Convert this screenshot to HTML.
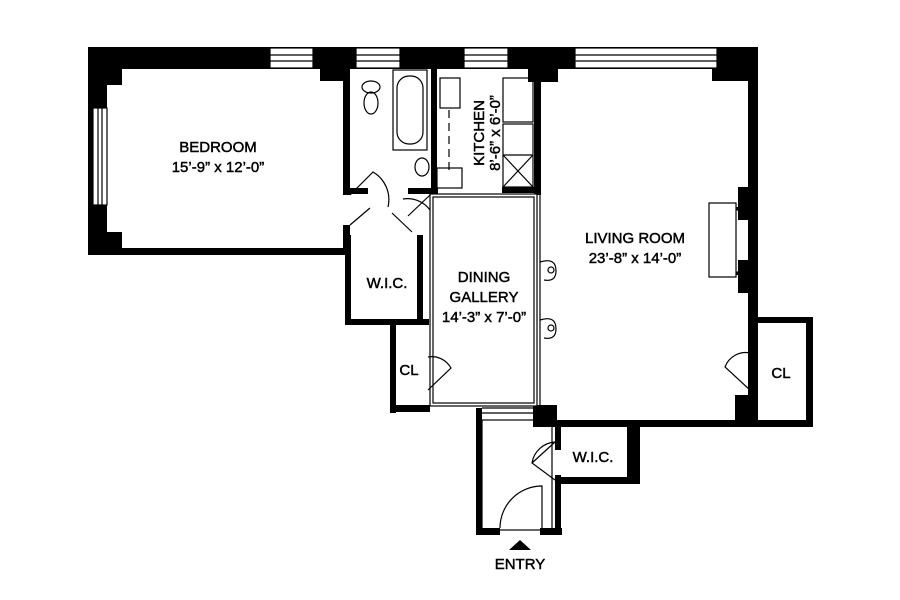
<!DOCTYPE html>
<html><head><style>
html,body{margin:0;padding:0;background:#fff;}
svg{display:block;}
text{font-family:"Liberation Sans",Arial,sans-serif;fill:#000;stroke:#000;stroke-width:0.45;}
</style></head><body>
<svg width="900" height="600" viewBox="0 0 900 600" xmlns="http://www.w3.org/2000/svg">
<rect width="900" height="600" fill="#fff"/>
<g fill="#000">
<rect x="88" y="47" width="670" height="22"/>
<rect x="88" y="47" width="34" height="38"/>
<rect x="320" y="47" width="30" height="34"/>
<rect x="88" y="232" width="34" height="23"/>
<rect x="88" y="47" width="19" height="208"/>
<rect x="88" y="248" width="262" height="7"/>
<rect x="343" y="65" width="7" height="130"/>
<rect x="343" y="225" width="7" height="30"/>
<rect x="431" y="65" width="6" height="130"/>
<rect x="350" y="188" width="18" height="6"/>
<rect x="408" y="188" width="30" height="6"/>
<rect x="534" y="65" width="7" height="130"/>
<rect x="528" y="47" width="30" height="35"/>
<rect x="502" y="187" width="36" height="6"/>
<rect x="712" y="47" width="46" height="34"/>
<rect x="748" y="47" width="10" height="375"/>
<rect x="735" y="395" width="22" height="30"/>
<rect x="535" y="420" width="278" height="7"/>
<rect x="533" y="405" width="24" height="22"/>
<rect x="750" y="317" width="63" height="6"/>
<rect x="806" y="317" width="7" height="110"/>
<rect x="345" y="235" width="6" height="90"/>
<rect x="345" y="319" width="84" height="6"/>
<rect x="417" y="235" width="6" height="90"/>
<rect x="390" y="319" width="6" height="94"/>
<rect x="390" y="405" width="40" height="7"/>
<rect x="476" y="408" width="6" height="127"/>
<rect x="476" y="528" width="24" height="7"/>
<rect x="540" y="528" width="22" height="7"/>
<rect x="555" y="420" width="6" height="30"/>
<rect x="555" y="475" width="6" height="60"/>
<rect x="555" y="477" width="85" height="7"/>
<rect x="627" y="420" width="13" height="64"/>
<rect x="738" y="187" width="11" height="33"/>
<rect x="738" y="260" width="11" height="33"/>
<polygon points="728,207 738,207 738,212 749,220 749,215"/>
<polygon points="728,275 738,275 738,270 749,262 749,267"/>
<polygon points="509,550 531,550 520,540"/>
</g>
<g fill="none" stroke="#000" stroke-width="1.2">
<rect x="270" y="48" width="43" height="20" fill="#fff"/>
<line x1="270" y1="55" x2="313" y2="55"/><line x1="270" y1="61" x2="313" y2="61"/>
<rect x="356" y="48" width="44" height="20" fill="#fff"/>
<line x1="356" y1="55" x2="400" y2="55"/><line x1="356" y1="61" x2="400" y2="61"/>
<rect x="464" y="48" width="44" height="20" fill="#fff"/>
<line x1="464" y1="55" x2="508" y2="55"/><line x1="464" y1="61" x2="508" y2="61"/>
<rect x="575" y="48" width="142" height="20" fill="#fff"/>
<line x1="575" y1="55" x2="717" y2="55"/><line x1="575" y1="61" x2="717" y2="61"/>
<rect x="93" y="108" width="14" height="97" fill="#fff"/>
<line x1="98" y1="108" x2="98" y2="205"/><line x1="102" y1="108" x2="102" y2="205"/>
<rect x="430" y="194" width="107" height="212" fill="#fff"/>
<rect x="433" y="197" width="101" height="206"/>
<line x1="540" y1="194" x2="540" y2="406"/>
<path d="M540 262 q16 -5 16 9 q0 11 -12 9 M540 320 q16 -5 16 9 q0 11 -12 9"/>
<circle cx="551" cy="270" r="3"/><circle cx="551" cy="328" r="3"/>
<rect x="482" y="420" width="70" height="110"/>
<line x1="482" y1="408" x2="534" y2="408"/>
<line x1="482" y1="413" x2="534" y2="413"/>
<rect x="709" y="203" width="27" height="74" fill="#fff"/>
<path d="M350 195 L373 172 A32 32 0 0 1 388 207"/>
<path d="M430 195 L408 216 M403 199 A28 28 0 0 1 430 210"/>
<path d="M350 225 L370 208 M392 213 L412 232"/>
<path d="M428 357 A22 22 0 0 1 451 368 L428 390"/>
<path d="M750 353 A22 22 0 0 0 725 367 L750 390"/>
<path d="M555 442 L532 463 L555 480 M532 463 A25 25 0 0 1 555 442"/>
<path d="M542 528 L542 486 A42 42 0 0 0 500 528"/>
<ellipse cx="371" cy="87" rx="9" ry="6"/>
<ellipse cx="371" cy="103" rx="7" ry="11"/>
<rect x="393" y="70" width="34" height="80"/>
<rect x="397" y="76" width="26" height="68" rx="12"/>
<ellipse cx="422" cy="167" rx="7" ry="9"/>
<rect x="440" y="78" width="20" height="30"/>
<line x1="449" y1="110" x2="449" y2="175" stroke-dasharray="8,5"/>
<rect x="437" y="168" width="25" height="20"/>
<rect x="503" y="78" width="30" height="44"/>
<rect x="503" y="124" width="30" height="63"/>
<line x1="503" y1="155" x2="533" y2="155"/>
<line x1="503" y1="155" x2="533" y2="187"/><line x1="533" y1="155" x2="503" y2="187"/>
</g>
<g font-size="15" text-anchor="middle">
<text x="218" y="152">BEDROOM</text>
<text x="218" y="172">15’-9” x 12’-0”</text>
<text x="635" y="243">LIVING ROOM</text>
<text x="635" y="263">23’-8” x 14’-0”</text>
<text x="484" y="282">DINING</text>
<text x="484" y="302">GALLERY</text>
<text x="484" y="322">14’-3” x 7’-0”</text>
<text x="387" y="288">W.I.C.</text>
<text x="409" y="375">CL</text>
<text x="781" y="378">CL</text>
<text x="593" y="462">W.I.C.</text>
<text x="520" y="569">ENTRY</text>
<text transform="translate(484,133) rotate(-90)">KITCHEN</text>
<text transform="translate(500,133) rotate(-90)">8’-6” x 6’-0”</text>
</g>
</svg>
</body></html>
